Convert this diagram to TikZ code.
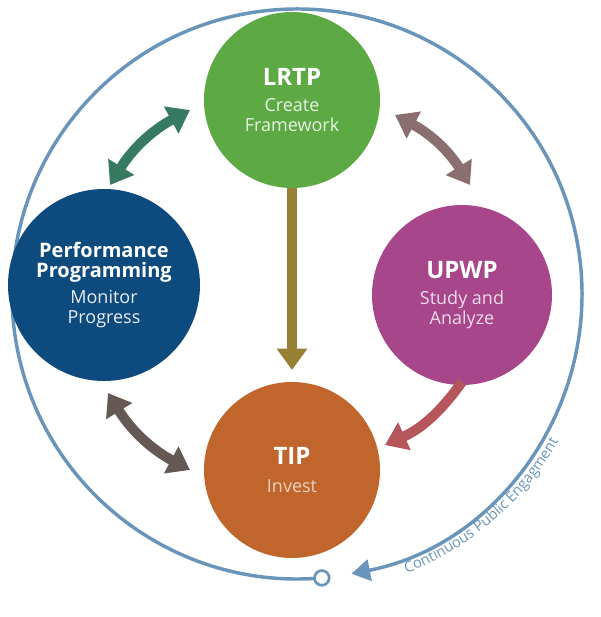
\documentclass[tikz,border=0pt]{standalone}
\usepackage{fontspec}
\setmainfont{Open Sans}
\usetikzlibrary{arrows.meta,decorations.text,calc}
\definecolor{cgreen}{HTML}{5DAA45}
\definecolor{cnavy}{HTML}{0D4A7E}
\definecolor{cmag}{HTML}{A8468C}
\definecolor{corange}{HTML}{C0652B}
\definecolor{cblue}{HTML}{6A95BA}
\newcommand\stitle[1]{{\bfseries\fontsize{18}{20}\selectfont\color{white}#1}}
\begin{document}
\begin{tikzpicture}[x=0.75pt,y=0.75pt,
  stage/.style={circle,inner sep=0pt,align=center,font=\fontsize{13.5}{15}\selectfont},
  arr/.style={line width=7.5pt,-{Triangle[length=16pt,width=22pt]}},
  darr/.style={line width=7.5pt,{Triangle[length=16pt,width=22pt]}-{Triangle[length=16pt,width=22pt]}}]
\useasboundingbox (0,0) rectangle (600,617);
% outer cycle
\draw[cblue,line width=2.6pt,-{Triangle[length=14pt,width=16pt]}] (297,323) ++(-85:285) arc[start angle=-85,end angle=-439,radius=285];
\node[circle,draw=cblue,line width=2pt,fill=white,minimum size=11pt,inner sep=0pt] (dot) at ($(297,323)+(-85:285)$) {};
\path[decorate,decoration={text along path,text align=center,text color=cblue,
  text={|\fontsize{11}{12}\selectfont|Continuous Public Engagment}}]
  (297,323) ++(-72:300) arc[start angle=-72,end angle=-26,radius=300];
% stages
\node[stage,fill=cgreen,minimum size=132pt] (lrtp) at (292,517)
  {\stitle{LRTP}\\[4pt]\color{white!85!cgreen}Create\\\color{white!85!cgreen}Framework};
\node[stage,fill=cnavy,minimum size=144pt] (perf) at (104,332)
  {\color{white}\bfseries\fontsize{15}{17}\selectfont Performance\\\color{white}\bfseries\fontsize{15}{17}\selectfont Programming\\[4pt]\color{white!90!cnavy}Monitor\\\color{white!90!cnavy}Progress};
\node[stage,fill=cmag,minimum size=135pt] (upwp) at (462,322)
  {\stitle{UPWP}\\[4pt]\color{white!80!cmag}Study and\\\color{white!80!cmag}Analyze};
\node[stage,fill=corange,minimum size=132pt] (tip) at (292,147)
  {\stitle{TIP}\\[6pt]\color{white!70!corange}Invest};
% connectors
\coordinate (a1) at (190,507); \coordinate (a2) at (110,432);
\draw[darr,color=cgreen!50!cnavy] (a1) to[bend right=15] (a2);
\coordinate (b1) at (395,502); \coordinate (b2) at (470,432);
\draw[darr,color=cgreen!40!cmag] (b1) to[bend left=15] (b2);
\draw[arr,color=cgreen!40!corange] (lrtp.south) -- (292,247);
\coordinate (c1) at (462,235); \coordinate (c2) at (385,172);
\draw[arr,color=cmag!50!corange] (c1) to[bend left=15] (c2);
\coordinate (d1) at (108,224); \coordinate (d2) at (190,147);
\draw[darr,color=cnavy!50!corange] (d1) to[bend right=15] (d2);
\end{tikzpicture}
\end{document}
